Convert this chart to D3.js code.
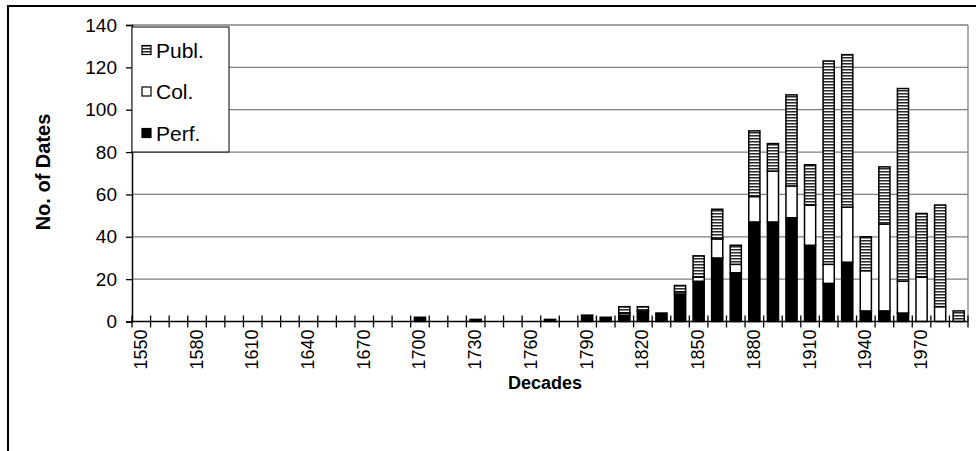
<!DOCTYPE html>
<html><head><meta charset="utf-8">
<script src="https://cdn.jsdelivr.net/npm/d3@7"></script>
<style>
html,body{margin:0;padding:0;background:#fff;}
svg{display:block;font-family:"Liberation Sans",Arial,sans-serif;}
</style></head>
<body>
<svg id="c" width="976" height="451"></svg>
<script>
const decades = d3.range(1550, 2000, 10).map(String);
const perf = [0,0,0,0,0,0,0,0,0,0,0,0,0,0,0,2,0,0,1,0,0,0,1,0,3,2,3,5,4,13,19,30,23,47,47,49,36,18,28,5,5,4,0,0,0];
const col  = [0,0,0,0,0,0,0,0,0,0,0,0,0,0,0,0,0,0,0,0,0,0,0,0,0,0,1,0,0,1,2,9,4,12,24,15,19,9,26,19,41,15,21,7,0];
const publ = [0,0,0,0,0,0,0,0,0,0,0,0,0,0,0,0,0,0,0,0,0,0,0,0,0,0,3,2,0,3,10,14,9,31,13,43,19,96,72,16,27,91,30,48,5];
const xTickLabels = ["1550","1580","1610","1640","1670","1700","1730","1760","1790","1820","1850","1880","1910","1940","1970"];
const yTicks = [0,20,40,60,80,100,120,140];
const seriesNames = ["Perf.","Col.","Publ."];

const svg = d3.select("#c");
const L = 132, R = 968, T = 25, B = 321.5;

const defs = svg.append("defs");
const pat = defs.append("pattern").attr("id","publ").attr("patternUnits","userSpaceOnUse")
  .attr("width",4).attr("height",3);
pat.append("rect").attr("width",4).attr("height",3).attr("fill","#ffffff");
pat.append("rect").attr("y",0).attr("width",4).attr("height",1).attr("fill","#2a2a2a");
pat.append("rect").attr("y",1).attr("width",4).attr("height",1).attr("fill","#8c8c8c");

// outer frame
svg.append("rect").attr("x",8).attr("y",6).attr("width",1000).attr("height",600)
  .attr("fill","none").attr("stroke","#000").attr("stroke-width",2);

const x = d3.scaleBand().domain(decades).range([L, R]).paddingInner(0.4).paddingOuter(0.2);
const y = d3.scaleLinear().domain([0,140]).range([B, T]);

// gridlines
svg.append("g").selectAll("line").data(yTicks.slice(1)).join("line")
  .attr("x1",L).attr("x2",R).attr("y1",d=>y(d)).attr("y2",d=>y(d))
  .attr("stroke","#808080").attr("stroke-width",1.3);
svg.append("line").attr("x1",R).attr("x2",R).attr("y1",T).attr("y2",B)
  .attr("stroke","#808080").attr("stroke-width",1.3);

// stacked data
const rows = decades.map((d,i)=>({decade:d, "Perf.":perf[i], "Col.":col[i], "Publ.":publ[i]}));
const stack = d3.stack().keys(seriesNames)(rows);
const fills = {"Perf.":"#000000","Col.":"#ffffff","Publ.":"url(#publ)"};

const g = svg.append("g");
stack.forEach(s=>{
  g.append("g").selectAll("rect").data(s.filter(d=>d[1]-d[0]>0)).join("rect")
    .attr("x",d=>x(d.data.decade))
    .attr("width",x.bandwidth())
    .attr("y",d=>y(d[1]))
    .attr("height",d=>y(d[0])-y(d[1]))
    .attr("fill",fills[s.key])
    .attr("stroke","#000").attr("stroke-width",1.5);
});

// y axis
const yAxis = d3.axisLeft(y).tickValues(yTicks).tickSize(6).tickPadding(9).tickFormat(d3.format("d"));
const ya = svg.append("g").attr("transform",`translate(${L},0)`).call(yAxis);
ya.select(".domain").attr("stroke","#000").attr("stroke-width",1.5);
ya.selectAll(".tick line").attr("stroke","#000").attr("stroke-width",1.3);
ya.selectAll("text").attr("font-size",19).attr("fill","#000").attr("font-family","Liberation Sans, Arial, sans-serif");

// x axis
const xa = svg.append("g").attr("transform",`translate(0,${B})`);
xa.append("line").attr("x1",L).attr("x2",R).attr("stroke","#000").attr("stroke-width",1.5);
const tickXs = d3.range(decades.length+1).map(i=> L + (R-L)*i/decades.length);
xa.selectAll("line.t").data(tickXs).join("line").attr("class","t")
  .attr("x1",d=>d).attr("x2",d=>d).attr("y1",-6).attr("y2",6)
  .attr("stroke","#000").attr("stroke-width",1.3);
xa.selectAll("text").data(xTickLabels).join("text")
  .attr("transform",d=>`translate(${x(d)+x.bandwidth()/2+5.5},8) rotate(-90)`)
  .attr("text-anchor","end").attr("font-size",18).attr("fill","#000").text(d=>d);

// axis titles
svg.append("text").attr("transform",`translate(50,172) rotate(-90)`)
  .attr("text-anchor","middle").attr("font-weight","bold").attr("font-size",20).text("No. of Dates");
svg.append("text").attr("x",(L+R)/2-5).attr("y",389)
  .attr("text-anchor","middle").attr("font-weight","bold").attr("font-size",18).text("Decades");

// legend
const lg = svg.append("g");
lg.append("rect").attr("x",132).attr("y",27).attr("width",97).attr("height",125)
  .attr("fill","#fff").attr("stroke","#000").attr("stroke-width",1);
const legItems = ["Publ.","Col.","Perf."];
legItems.forEach((k,i)=>{
  const cy = 50 + i*41.5;
  lg.append("rect").attr("x",142).attr("y",cy-4.5).attr("width",9).attr("height",9)
    .attr("fill",fills[k]).attr("stroke","#000").attr("stroke-width",1.2);
  lg.append("text").attr("x",156).attr("y",cy+7.5).attr("font-size",21).attr("fill","#000").text(k);
});
</script>
</body></html>
